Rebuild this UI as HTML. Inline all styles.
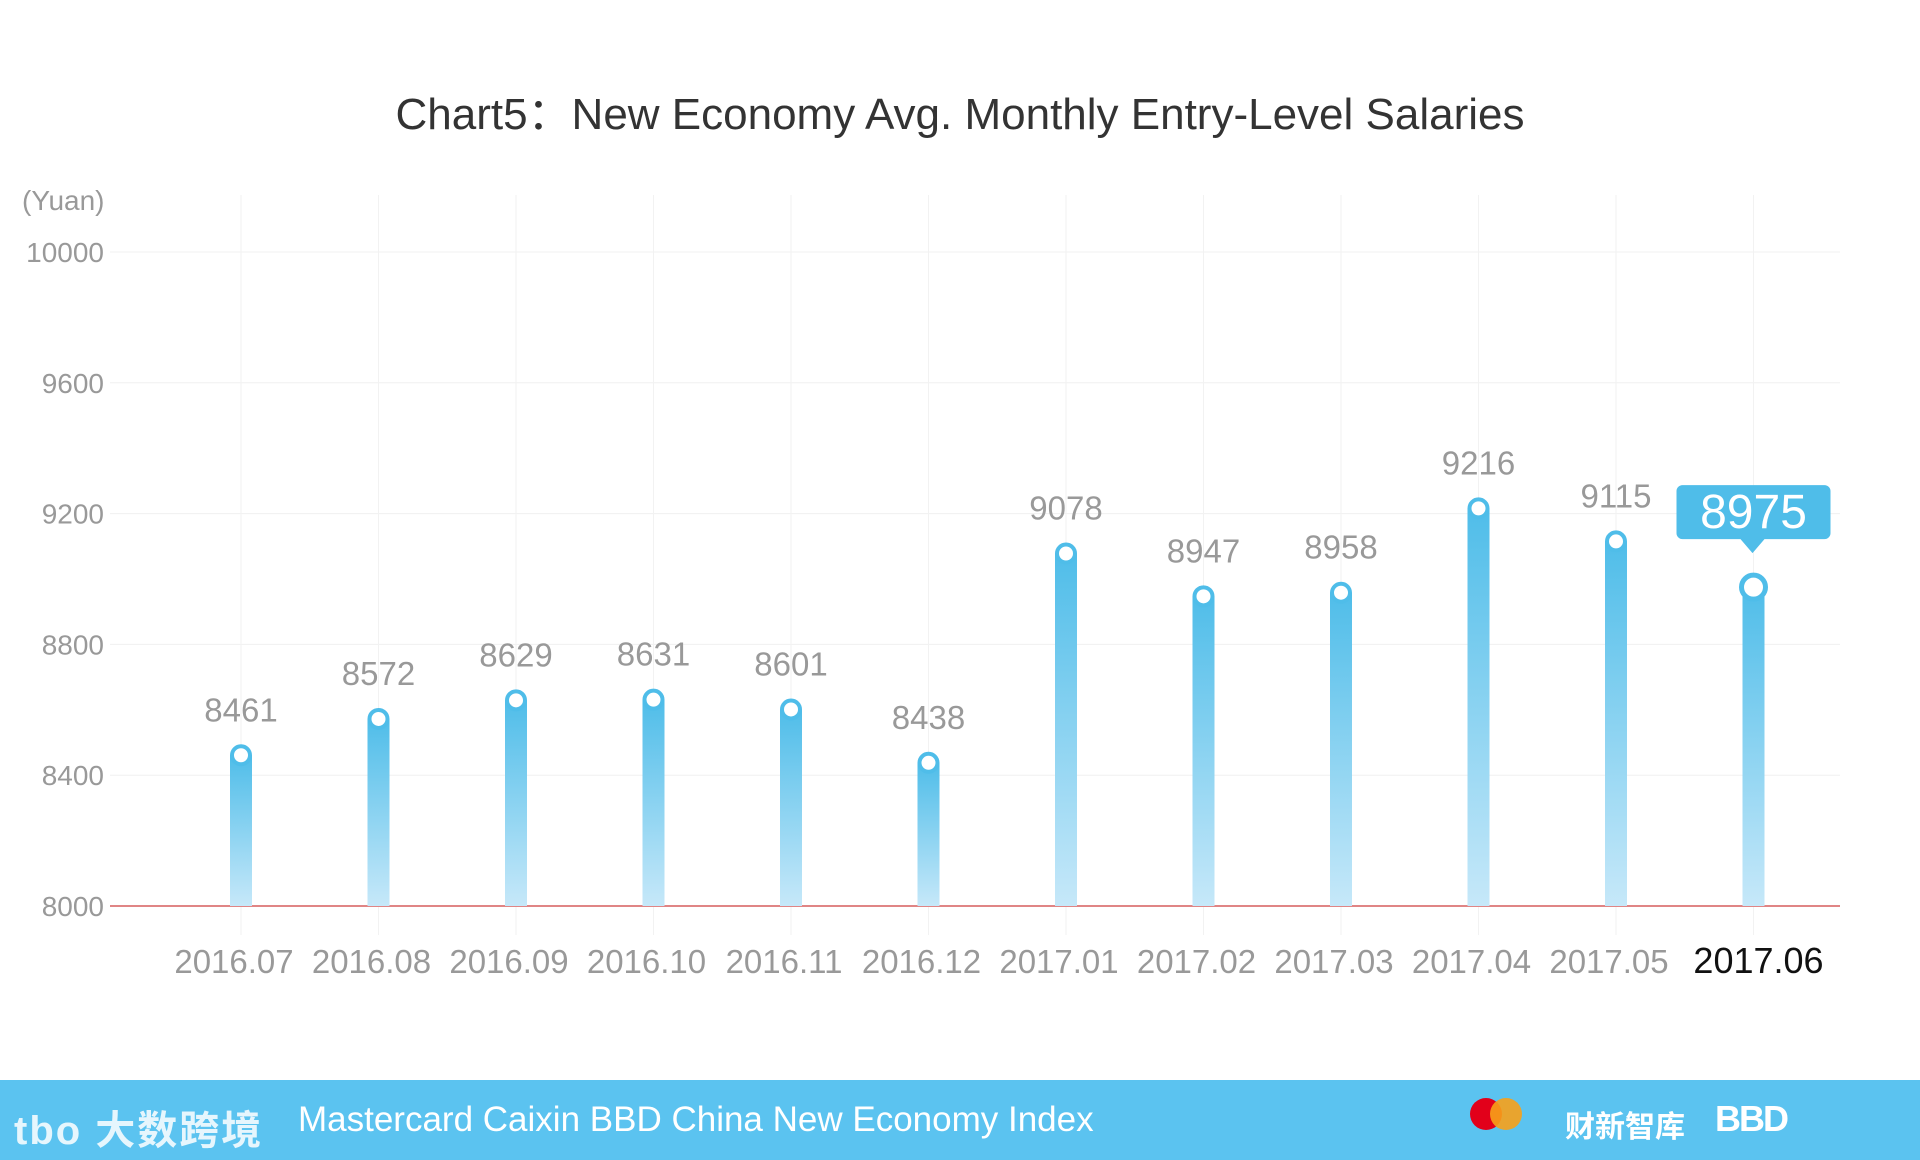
<!DOCTYPE html>
<html><head><meta charset="utf-8"><style>
body{margin:0;width:1920px;height:1160px;background:#fff;overflow:hidden;font-family:"Liberation Sans","Noto Sans CJK SC",sans-serif;position:relative}
#title{position:absolute;top:78px;left:0;width:1920px;text-align:center;font-size:44px;color:#333}
#footer{position:absolute;left:0;top:1080px;width:1920px;height:80px;background:#5bc3f0}
</style></head><body>
<div id="title">Chart5：New Economy Avg. Monthly Entry-Level Salaries</div>
<svg id="chart" width="1920" height="1080" style="position:absolute;left:0;top:0">
<defs><linearGradient id="g" x1="0" y1="0" x2="0" y2="1"><stop offset="0" stop-color="#4fbde9"/><stop offset="1" stop-color="#c6e8f9"/></linearGradient></defs>
</svg>
<div id="footer">
<span style="position:absolute;left:14px;top:18px;font-size:40px;font-weight:bold;color:#e6f6fd;letter-spacing:2px">tbo 大数跨境</span>
<span style="position:absolute;left:298px;top:20px;font-size:35px;color:#fff">Mastercard Caixin BBD China New Economy Index</span>
<svg style="position:absolute;left:1468px;top:10px" width="60" height="60"><circle cx="18" cy="24" r="16" fill="#e2001a"/><circle cx="38" cy="24" r="16" fill="#f7a11a" opacity=".9"/></svg>
<span style="position:absolute;left:1565px;top:22px;font-size:30px;color:#fff;font-weight:bold">财新智库</span>
<span style="position:absolute;left:1715px;top:18px;font-size:36px;color:#fff;font-weight:bold;letter-spacing:-2px">BBD</span>
</div>
<script>
const categories=["2016.07","2016.08","2016.09","2016.10","2016.11","2016.12","2017.01","2017.02","2017.03","2017.04","2017.05","2017.06"];
const values=[8461,8572,8629,8631,8601,8438,9078,8947,8958,9216,9115,8975];
const yTicks=[8000,8400,8800,9200,9600,10000];
const NS="http://www.w3.org/2000/svg";
const svg=document.getElementById('chart');
const y=v=>906-(v-8000)*(654/2000);
const x=i=>241+i*137.5;
function mk(t,a,p){const e=document.createElementNS(NS,t);for(const k in a)e.setAttribute(k,a[k]);(p||svg).appendChild(e);return e;}
yTicks.forEach(t=>{
 if(t>8000){const l=mk('line',{x1:110,x2:1840,y1:y(t),y2:y(t),stroke:'#f0f0f0','stroke-width':1});
 
 }
 const tx=mk('text',{x:104,y:y(t)+10,'text-anchor':'end','font-size':28,fill:'#999'});tx.textContent=t;
 
 
});
const yu=mk('text',{x:22,y:210,'font-size':28,fill:'#999'});yu.textContent='(Yuan)';


categories.forEach((c,i)=>{
 const g=mk('line',{x1:x(i),x2:x(i),y1:195,y2:935,stroke:'#f2f2f2','stroke-width':1});
 
 
});
const base=mk('line',{x1:110,x2:1840,y1:906,y2:906,stroke:'#e08585','stroke-width':2});


categories.forEach((c,i)=>{
 const last=i===categories.length-1;
 const v=values[i],top=y(v);
 const b=mk('rect',{x:x(i)-11,y:top,width:22,height:906-top,fill:'url(#g)'});
 
 
 const m=mk('circle',{cx:x(i),cy:top,r:last?12:9,fill:'#fff',stroke:'#4fbde9','stroke-width':last?5:4});
 
 
 const xl=mk('text',{x:last?x(i)+5:x(i)-7,y:973,'text-anchor':'middle','font-size':last?36:33,fill:last?'#111':'#999'});xl.textContent=c;
 
 
 if(!last){
  const vl=mk('text',{x:x(i),y:top-34,'text-anchor':'middle','font-size':33,fill:'#999'});vl.textContent=v;
  
  
 }else{
  const bx=x(i),by=top-42;
  const p=mk('path',{d:`M${bx-71} ${by-60}h142a6 6 0 0 1 6 6v42a6 6 0 0 1-6 6h-60l-12 14l-12-14h-58a6 6 0 0 1-6-6v-42a6 6 0 0 1 6-6z`,fill:'#4fbde9'});
  
  
  const ct=mk('text',{x:bx,y:by-17,'text-anchor':'middle','font-size':48,fill:'#fff'});ct.textContent=v;
  
  
 }
});
</script>
</body></html>
